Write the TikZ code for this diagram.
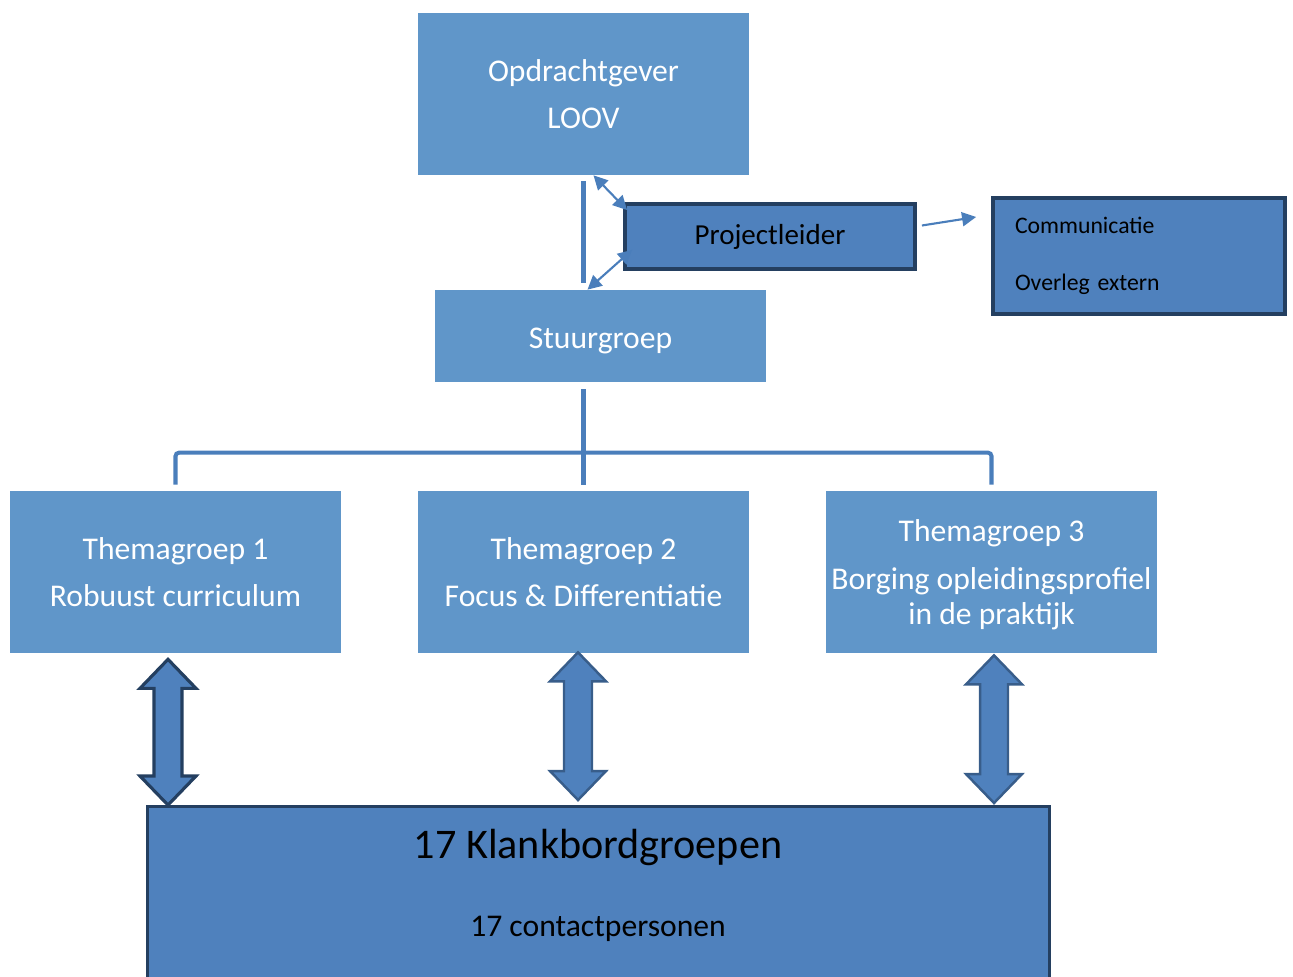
\documentclass[tikz,border=0pt]{standalone}
\usepackage{fontspec}
\setmainfont{Carlito}
\usetikzlibrary{calc,arrows.meta}
\definecolor{lichtblauw}{HTML}{6096C9}
\definecolor{middenblauw}{HTML}{4F81BD}
\definecolor{donkerblauw}{HTML}{243F60}
\definecolor{randblauw}{HTML}{385D8A}
\definecolor{lijnblauw}{HTML}{4A7EBB}
% dubbele blokpijl van #2 (boven) naar #3 (onder)
\newcommand\blockarrow[3]{%
\draw[#1] let \p1=(#2), \p2=(#3) in
 (\x1,\y1) -- (\x1+0.56cm,\y1-0.58cm) -- (\x1+0.28cm,\y1-0.58cm)
 -- (\x1+0.28cm,\y2+0.58cm) -- (\x1+0.56cm,\y2+0.58cm) -- (\x1,\y2)
 -- (\x1-0.56cm,\y2+0.58cm) -- (\x1-0.28cm,\y2+0.58cm)
 -- (\x1-0.28cm,\y1-0.58cm) -- (\x1-0.56cm,\y1-0.58cm) -- cycle;}
\begin{document}
\begin{tikzpicture}[x=0.02cm, y=-0.02cm, >={Triangle[length=8pt,width=8pt]},
 licht/.style={fill=lichtblauw, text=white, inner sep=0pt, minimum width=6.62cm,
  align=center, font=\fontsize{18}{27}\selectfont},
 donker/.style={fill=middenblauw, draw=donkerblauw, line width=2.2pt, inner sep=0pt},
 lijn/.style={draw=lijnblauw, line width=2.3pt},
 pijl/.style={lijnblauw, line width=1.2pt},
 blok/.style={fill=middenblauw, draw=donkerblauw, line width=1.8pt},
 blokb/.style={fill=middenblauw, draw=randblauw, line width=1.4pt}]
\useasboundingbox (0,0) rectangle (1293,976);
\clip (0,0) rectangle (1293,976);

\node[licht, minimum height=3.24cm] (opd) at (583.5,94) {Opdrachtgever\\LOOV};
\node[licht, minimum height=1.84cm, text height=14.6pt, text depth=0pt] (stuur) at (600.5,336) {Stuurgroep};
\node[donker, minimum width=5.8cm, minimum height=1.3cm,
 font=\fontsize{16.5}{20}\selectfont] (pl) at (770,236.5) {Projectleider};
\node[donker, text width=4.96cm, inner xsep=0.44cm, minimum height=2.32cm, align=left,
 font=\fontsize{13.5}{32.4}\selectfont] (comm) at (1139,256) {Communicatie\\Overleg extern};

\node[licht, minimum height=3.24cm] (t1) at (175.5,572) {Themagroep 1\\Robuust curriculum};
\node[licht, minimum height=3.24cm] (t2) at (583.5,572) {Themagroep 2\\Focus \& Differentiatie};
\node[licht, minimum height=3.24cm, text depth=0pt, font=\fontsize{18}{19.8}\selectfont] (t3) at (991.5,572)
 {Themagroep 3\\[7.4pt]Borging opleidingsprofiel\\in de praktijk};

\node[donker, line width=1.7pt, minimum width=18.04cm, minimum height=4.4cm] (kb) at (598.5,916.5) {};
\node[anchor=base, font=\fontsize{24}{28}\selectfont] (kbtitel) at (598,858) {17 Klankbordgroepen};
\node[anchor=base, font=\fontsize{18}{22}\selectfont] (kbsub) at (598,936) {17 contactpersonen};

% lijnen
\draw[lijn] ($(opd.south)+(0,6)$) -- ($(stuur.north -| opd.south)+(0,-7)$);
\draw[lijn] ($(t2.north |- stuur.south)+(0,7)$) -- ($(t2.north)+(0,-6)$);
\draw[lijn, rounded corners=2pt] ($(t1.north)+(0,-6)$) |- ($(t2.north)+(0,-38)$) -| ($(t3.north)+(0,-6)$);

\draw[pijl, <->] ($(opd.south)+(10,0)$) -- ($(pl.north west)+(4,8)$);
\draw[pijl, <->] ($(pl.south west)+(9,-21)$) -- ($(stuur.north)+(-13,0)$);
\draw[pijl, ->] ($(pl.east)+(5,-11)$) -- ($(comm.west)+(-15,-39)$);

% blokpijlen
\coordinate (a1) at ($(t1.south)+(-7.5,6)$);
\coordinate (a2) at ($(t2.south)+(-5.5,-1)$);
\coordinate (a3) at ($(t3.south)+(2.5,2)$);
\blockarrow{blok}{a1}{a1 |- kb.north}
\blockarrow{blokb}{a2}{$(a2 |- kb.north)+(0,-5)$}
\blockarrow{blokb}{a3}{$(a3 |- kb.north)+(0,-2)$}
\end{tikzpicture}
\end{document}
